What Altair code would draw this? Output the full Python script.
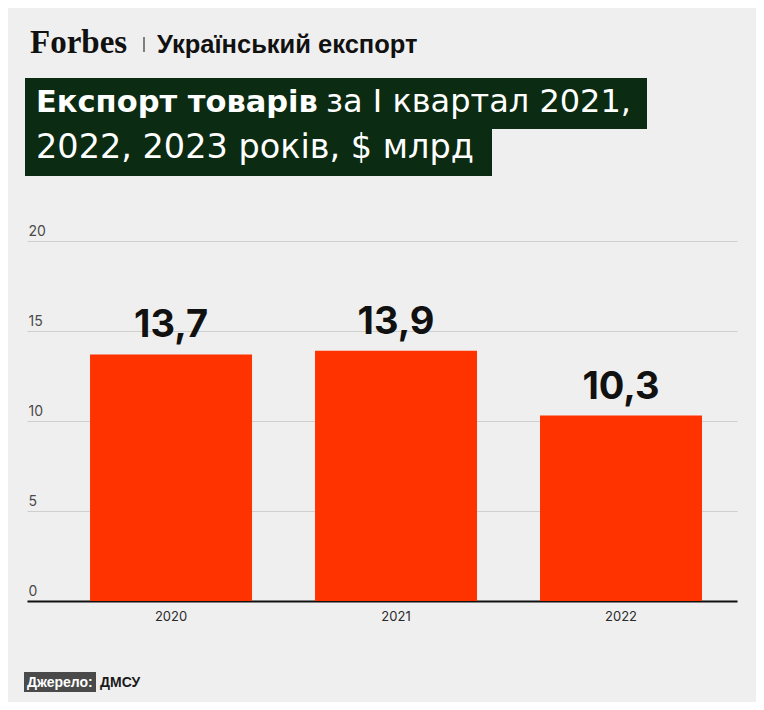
import altair as alt
import pandas as pd

years = ["2020", "2021", "2022"]
values = [13.7, 13.9, 10.3]
y_ticks = [0, 5, 10, 15, 20]

header_brand = "Forbes"
header_section = "Український експорт"
title_bold = "Експорт товарів"
title_rest1 = "за I квартал 2021,"
title_line2 = "2022, 2023 років, $ млрд"
source_label = "Джерело:"
source_text = "ДМСУ"

BG = "#efefef"
BAR = "#ff3300"
GREEN = "#0b2b12"
FONT = "Inter"
TFONT = "DejaVu Sans"
HFONT = "Liberation Sans"

df = pd.DataFrame({"year": years, "value": values,
                   "label": [f"{v:.1f}".replace(".", ",") for v in values]})
one = pd.DataFrame({"k": [0]})

x_enc = alt.X("year:N", title=None, sort=years,
              scale=alt.Scale(paddingInner=0.28, paddingOuter=0.2178, align=0.643),
              axis=alt.Axis(domain=True, domainColor="#111111", domainWidth=2.2,
                            ticks=False, grid=False, labelAngle=0, labelFont=FONT,
                            labelFontSize=13, labelColor="#2a2a2a", labelPadding=9))
y_enc = alt.Y("value:Q", title=None,
              scale=alt.Scale(domain=[0, 20]),
              axis=alt.Axis(values=y_ticks, domain=False, ticks=False, grid=True,
                            gridColor="#cfcfcf", gridWidth=1, labelAlign="left",
                            labelBaseline="alphabetic", labelPadding=-1, labelOffset=-6,
                            labelFont=FONT, labelFontSize=14, labelColor="#4a4a4a"))

base = alt.Chart(df)
bars = base.mark_bar(color=BAR).encode(x=x_enc, y=y_enc)
labels = base.mark_text(font=FONT, fontSize=38, fontWeight="bold", color="#111111",
                        baseline="alphabetic", dy=-17).encode(
    x=alt.X("year:N", sort=years), y=alt.Y("value:Q"), text="label:N")

deco = alt.Chart(one)
box1 = deco.mark_rect(color=GREEN).encode(x=alt.value(-2), x2=alt.value(620),
                                          y=alt.value(-163), y2=alt.value(-112))
box2 = deco.mark_rect(color=GREEN).encode(x=alt.value(-2), x2=alt.value(465),
                                          y=alt.value(-113), y2=alt.value(-65))
t_bold = deco.mark_text(font=TFONT, fontSize=30.5, fontWeight="bold", color="white",
                        align="left", baseline="alphabetic").encode(
    x=alt.value(9), y=alt.value(-129), text=alt.value(title_bold))
t_rest = deco.mark_text(font=TFONT, fontSize=32, fontWeight="normal", color="white",
                        align="left", baseline="alphabetic").encode(
    x=alt.value(299), y=alt.value(-129), text=alt.value(title_rest1))
t_line2 = deco.mark_text(font=TFONT, fontSize=33.5, fontWeight="normal", color="white",
                         align="left", baseline="alphabetic").encode(
    x=alt.value(9), y=alt.value(-83), text=alt.value(title_line2))

brand = deco.mark_text(font="Liberation Serif", fontSize=33, fontWeight="bold",
                       color="#111111", align="left", baseline="alphabetic").encode(
    x=alt.value(3), y=alt.value(-188), text=alt.value(header_brand))
sep = deco.mark_rule(color="#333333", strokeWidth=1.2).encode(
    x=alt.value(117), y=alt.value(-204), y2=alt.value(-189))
section = deco.mark_text(font=HFONT, fontSize=25.5, fontWeight="bold", color="#111111",
                         align="left", baseline="alphabetic").encode(
    x=alt.value(130), y=alt.value(-188), text=alt.value(header_section))

src_box = deco.mark_rect(color="#4a4a4a").encode(x=alt.value(-3), x2=alt.value(69),
                                                 y=alt.value(431), y2=alt.value(451))
src_lab = deco.mark_text(font=HFONT, fontSize=14, fontWeight="bold", color="white",
                         align="left", baseline="alphabetic").encode(
    x=alt.value(0), y=alt.value(446), text=alt.value(source_label))
src_txt = deco.mark_text(font=HFONT, fontSize=14, fontWeight="bold", color="#1a1a1a",
                         align="left", baseline="alphabetic").encode(
    x=alt.value(73), y=alt.value(446), text=alt.value(source_text))

chart = alt.layer(bars, labels, box1, box2, t_bold, t_rest, t_line2, brand, sep,
                  section, src_box, src_lab, src_txt).properties(
    width=710, height=360,
    autosize=alt.AutoSizeParams(type="none"),
    padding={"left": 19, "top": 233, "right": 19, "bottom": 101},
    background=BG,
).configure_view(stroke=None)

chart.save("out.html", embed_options={"renderer": "svg", "actions": False})
